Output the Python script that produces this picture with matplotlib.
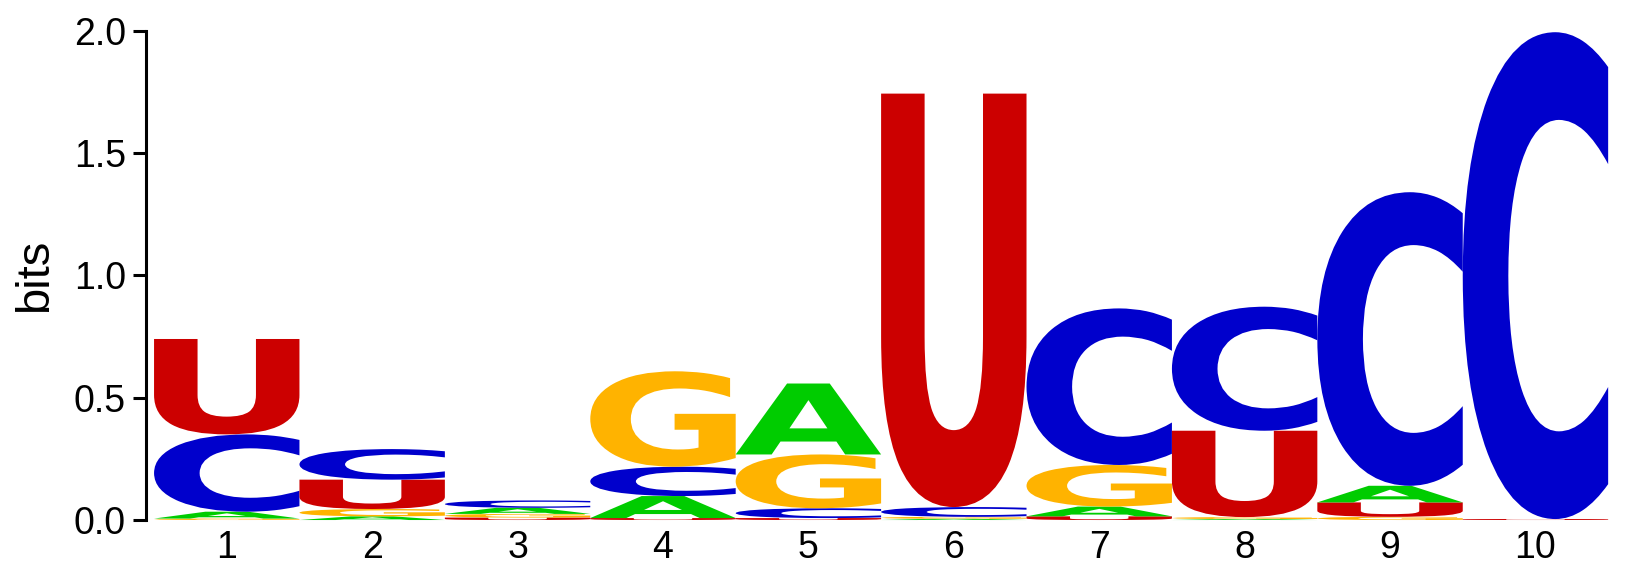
import matplotlib
matplotlib.use("Agg")
import matplotlib.pyplot as plt
from matplotlib.textpath import TextPath
from matplotlib.patches import PathPatch
from matplotlib.font_manager import FontProperties
from matplotlib.transforms import Affine2D

positions = [1, 2, 3, 4, 5, 6, 7, 8, 9, 10]
letters = ["A", "C", "G", "U"]
# information content (bits) per letter at each position
A_bits = [0.028, 0.015, 0.025, 0.090, 0.290, 0.005, 0.040, 0.004, 0.068, 0.000]
C_bits = [0.316, 0.125, 0.030, 0.120, 0.040, 0.040, 0.640, 0.507, 1.200, 1.990]
G_bits = [0.006, 0.030, 0.015, 0.390, 0.220, 0.008, 0.170, 0.008, 0.013, 0.000]
U_bits = [0.390, 0.120, 0.010, 0.008, 0.008, 1.690, 0.015, 0.353, 0.059, 0.004]
y_ticks = [0.0, 0.5, 1.0, 1.5, 2.0]

colors = {"A": "#00CC00", "C": "#0000CC", "G": "#FFB300", "U": "#CC0000"}
values = {"A": A_bits, "C": C_bits, "G": G_bits, "U": U_bits}

fp = FontProperties(family="DejaVu Sans", weight="bold")

fig = plt.figure(figsize=(16.3, 5.65), dpi=100)
ax = fig.add_axes([0.0896, 0.0796, 0.897, 0.866])


def draw_letter(ax, ch, x_left, y_bottom, width, height, color):
    if height <= 0:
        return
    tp = TextPath((0, 0), ch, size=1, prop=fp)
    ext = tp.get_extents()
    tr = (Affine2D()
          .translate(-ext.x0, -ext.y0)
          .scale(width / ext.width, height / ext.height)
          .translate(x_left, y_bottom))
    path = tr.transform_path(tp)
    patch = PathPatch(path, facecolor=color, edgecolor="none", lw=0,
                      clip_on=False)
    ax.add_patch(patch)


for i, pos in enumerate(positions):
    col = sorted(letters, key=lambda L: values[L][i])
    y = 0.0
    for L in col:
        h = values[L][i]
        draw_letter(ax, L, pos - 0.5, y, 1.0, h, colors[L])
        y += h

ax.set_xlim(0.445, 10.5)
ax.set_ylim(0, 2.0)
ax.set_xticks(positions)
ax.set_xticklabels([str(p) for p in positions])
ax.set_yticks(y_ticks)
ax.set_yticklabels([f"{t:.1f}" for t in y_ticks])
for s in ["top", "right", "bottom"]:
    ax.spines[s].set_visible(False)
ax.spines["left"].set_linewidth(2.2)
ax.tick_params(axis="y", length=9.5, width=2.2, pad=5, labelsize=27)
ax.tick_params(axis="x", length=0, pad=7, labelsize=27)
for lab in ax.get_xticklabels() + ax.get_yticklabels():
    lab.set_family("Liberation Sans")
ax.set_ylabel("bits", fontsize=34, family="Liberation Sans", labelpad=12)

fig.savefig("out.png", dpi=100)
